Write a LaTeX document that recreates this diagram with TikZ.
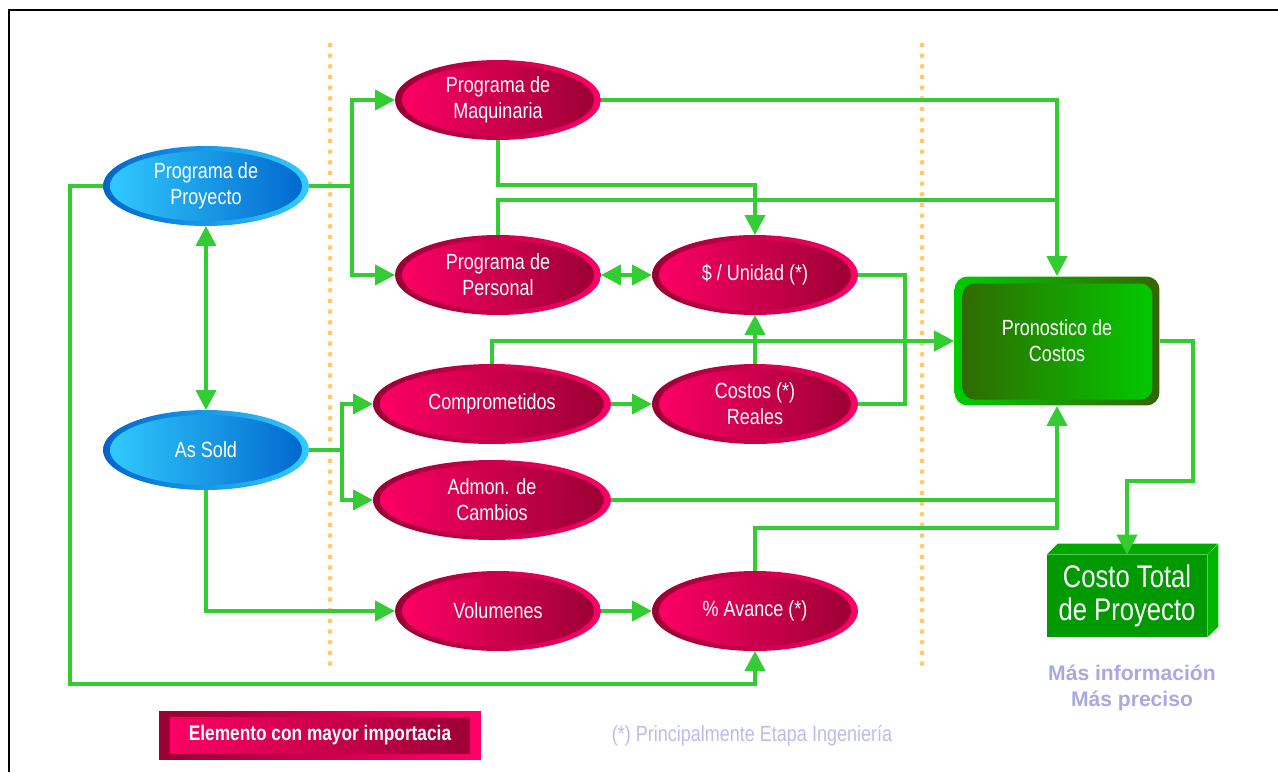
\documentclass[tikz,border=0pt]{standalone}
\usepackage{fontspec}
\setmainfont{Liberation Sans}[FakeStretch=0.82]
\newfontfamily\anchafont{Liberation Sans}
\usetikzlibrary{arrows.meta,calc,shapes.geometric}
\definecolor{verdeflecha}{HTML}{33CC33}
\definecolor{rojoosc}{HTML}{990033}
\definecolor{rosa}{HTML}{FF0066}
\definecolor{azulosc}{HTML}{0066CC}
\definecolor{celeste}{HTML}{33CCFF}
\definecolor{verdeosc}{HTML}{336600}
\definecolor{verdeclaro}{HTML}{00CC00}
\definecolor{verdecaja}{HTML}{009900}
\definecolor{verdetapa}{HTML}{00A800}
\definecolor{verdelado}{HTML}{00B400}
\definecolor{lavanda}{HTML}{BCBCEA}
\definecolor{lavandaosc}{HTML}{A9A9E2}
\definecolor{punteado}{HTML}{FFCC66}
\tikzset{
  elip/.style 2 args={ellipse, inner sep=0pt, outer sep=0pt, align=center, text=white,
    font=\fontsize{12.5}{14.7}\selectfont, minimum width=4.12cm, minimum height=1.6cm,
    left color=#1, right color=#2,
    path picture={\shade[left color=#2, right color=#1]
      let \p1=(path picture bounding box.north east), \p2=(path picture bounding box.center) in
      (\p2) ellipse [x radius=\x1-\x2-4pt, y radius=\y1-\y2-2.8pt];}},
  elipazul/.style={elip={azulosc}{celeste}},
  eliproja/.style={elip={rojoosc}{rosa}},
  flecha/.style={draw=verdeflecha, line width=2.3pt, -{Triangle[length=0.4cm,width=0.4cm]}},
  flechados/.style={flecha, {Triangle[length=0.4cm,width=0.4cm]}-{Triangle[length=0.4cm,width=0.4cm]}},
  linea/.style={draw=verdeflecha, line width=2.3pt},
  punteo/.style={draw=punteado, line width=2.8pt, line cap=round, dash pattern=on 0pt off 6.07pt},
}
\begin{document}
\begin{tikzpicture}[x=0.02cm, y=-0.02cm]
  \useasboundingbox (0,0) rectangle (1278,772);
  \draw[line width=1.2pt] (9,772) -- (9,10) -- (1278,10);
  \draw[punteo] (330,45) -- (330,670);
  \draw[punteo] (922,45) -- (922,670);
  % nodos
  \node[elipazul] (proy) at (206,186) {Programa de\\Proyecto};
  \node[elipazul] (sold) at (206,450) {As Sold};
  \node[eliproja] (maq) at (498,100) {Programa de\\Maquinaria};
  \node[eliproja] (pers) at (498,275) {Programa de\\Personal};
  \node[eliproja] (unidad) at (755,275) {\$ / Unidad (*)};
  \node[eliproja, minimum width=4.76cm] (comp) at (492,404) {Comprometidos};
  \node[eliproja] (reales) at (755,404) {Costos (*)\\Reales};
  \node[eliproja, minimum width=4.76cm] (admon) at (492,500) {Admon. de\\Cambios};
  \node[eliproja] (vol) at (498,611) {Volumenes};
  \node[eliproja] (avance) at (755,611) {\% Avance (*)};
  \node[rectangle, rounded corners=0.26cm, minimum width=4.1cm, minimum height=2.58cm,
    align=center, text=white, font=\fontsize{12.5}{14.7}\selectfont,
    left color=verdeclaro, right color=verdeosc,
    path picture={\shade[left color=verdeosc, right color=verdeclaro, rounded corners=0.24cm]
      ([shift={(0.16cm,-0.14cm)}]path picture bounding box.north west) rectangle
      ([shift={(-0.14cm,0.12cm)}]path picture bounding box.south east);}] (pron) at (1057,341) {Pronostico de\\Costos};
  \node[rectangle, fill=verdecaja, minimum width=3.2cm, minimum height=1.64cm, align=center,
    text=white, font=\fontsize{17.8}{18.4}\selectfont] (total) at (1127,596) {Costo Total\\de Proyecto};
  \fill[verdetapa] (total.north west) -- ++(11,-11) -- ++(160,0) -- (total.north east) -- cycle;
  \fill[verdelado] (total.north east) -- ++(11,-11) -- ++(0,83) -- (total.south east) -- cycle;
  % conectores
  \coordinate (bif1) at (352,186);
  \coordinate (bif2) at (342,450);
  \coordinate (esq1) at (70,684);
  \coordinate (union1) at (1057,200);
  \coordinate (union2) at (1057,528);
  \coordinate (codo1) at (1193,481);
  \draw[linea] (proy.east) -- (bif1);
  \draw[flecha] (bif1) |- (maq.west);
  \draw[flecha] (bif1) |- (pers.west);
  \draw[flecha] (proy.west) -| (esq1) -| (avance.south);
  \draw[flechados] (proy) -- (sold);
  \draw[linea] (sold.east) -- (bif2);
  \draw[flecha] (bif2) |- (comp.west);
  \draw[flecha] (bif2) |- (admon.west);
  \draw[flecha] (sold.south) |- (vol.west);
  \draw[flecha] (maq.south) -- ++(0,45) -| (unidad.north);
  \draw[flecha] (maq.east) -| (pron.north);
  \draw[linea] (pers.north) |- (union1);
  \draw[flechados] (pers) -- (unidad);
  \draw[linea] (unidad.east) -- ++(47,0) |- (reales.east);
  \draw[flecha] (comp.north) |- (pron.west);
  \draw[flecha] (comp) -- (reales);
  \draw[flecha] (reales) -- (unidad);
  \draw[flecha] (admon.east) -| (pron.south);
  \draw[linea] (avance.north) |- (union2) -- (admon.east -| union2);
  \draw[flecha] (vol) -- (avance);
  \draw[flecha] (pron.east) -| (codo1) -| (total.north);
  % leyenda
  \node[rectangle, minimum width=6.44cm, minimum height=0.96cm, text=white,
    font=\bfseries\fontsize{12}{14}\selectfont, left color=rojoosc, right color=rosa,
    path picture={\shade[left color=rosa, right color=rojoosc]
      ([shift={(0.22cm,-0.12cm)}]path picture bounding box.north west) rectangle
      ([shift={(-0.22cm,0.12cm)}]path picture bounding box.south east);}] (ley) at (320,735) {Elemento con mayor importacia};
  \node[text=lavanda, font=\fontsize{12.5}{14.7}\selectfont] (nota) at (752,736) {(*) Principalmente Etapa Ingeniería};
  \node[align=center, text=lavandaosc, font=\anchafont\bfseries\fontsize{12}{14.7}\selectfont] (info) at (1132,688) {Más información\\Más preciso};
\end{tikzpicture}
\end{document}
